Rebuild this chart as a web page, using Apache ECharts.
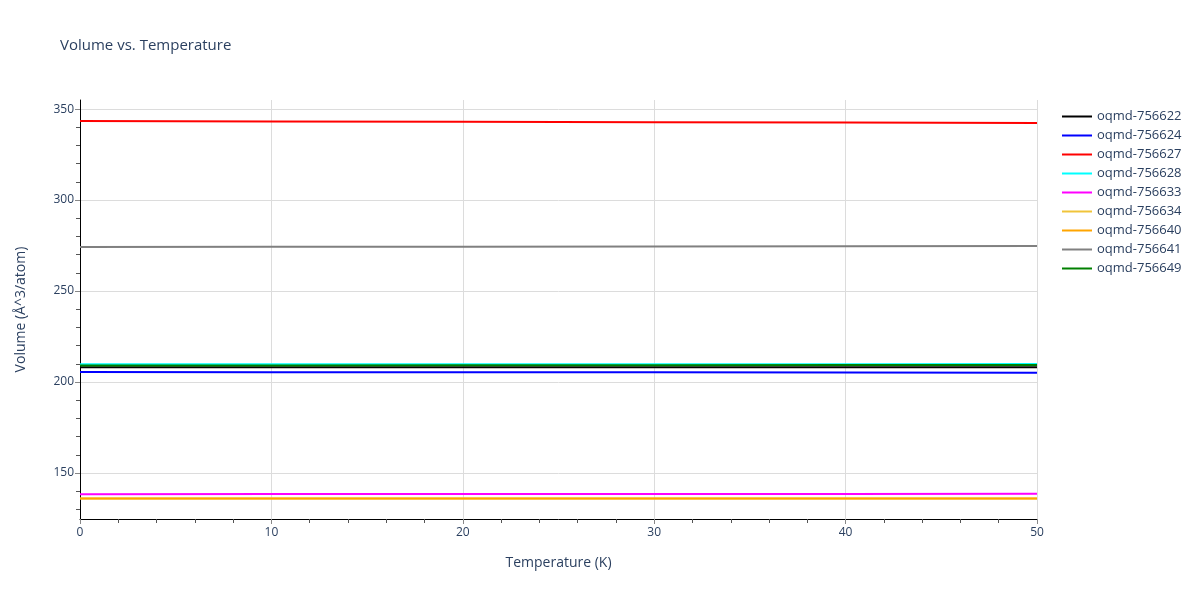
<!DOCTYPE html>
<html>
<head>
<meta charset="utf-8">
<script src="https://cdn.jsdelivr.net/npm/echarts@6/dist/echarts.min.js"></script>
<style>
	html, body { margin: 0; padding: 0; background: #fff; }
	#chart { width: 1200px; height: 600px; }
</style>
</head>
<body>
<div id="chart"></div>
<script>
// temperatures (K)
var temps = [0, 10, 20, 30, 40, 50];

var names = ['oqmd-756622', 'oqmd-756624', 'oqmd-756627', 'oqmd-756628', 'oqmd-756633',
	'oqmd-756634', 'oqmd-756640', 'oqmd-756641', 'oqmd-756649'];
var colors = ['#000000', '#0000ff', '#ff0000', '#00ffff', '#ff00ff',
	'#f0c43a', '#ffa500', '#808080', '#008000'];

// volume per atom
var v756622 = [208.1, 208.1, 208.1, 208.1, 208.1, 208.1];
var v756624 = [205.5, 205.4, 205.3, 205.3, 205.2, 205.1];
var v756627 = [343.4, 343.2, 343.0, 342.8, 342.6, 342.3];
var v756628 = [209.7, 209.7, 209.8, 209.8, 209.8, 209.9];
var v756633 = [138.3, 138.4, 138.4, 138.5, 138.5, 138.6];
var v756634 = [135.9, 135.9, 135.9, 135.9, 135.9, 135.9];
var v756640 = [135.9, 135.9, 135.9, 135.9, 135.9, 135.9];
var v756641 = [274.2, 274.3, 274.4, 274.5, 274.6, 274.7];
var v756649 = [209.1, 209.1, 209.2, 209.2, 209.3, 209.3];

var values = [v756622, v756624, v756627, v756628, v756633, v756634, v756640, v756641, v756649];

var yTicks = [150, 200, 250, 300, 350];
var yMinor = [130, 140, 160, 170, 180, 190, 210, 220, 230, 240, 260, 270, 280, 290, 310, 320, 330, 340];

var textColor = '#2a3f5f';
var fontName = '"Open Sans", sans-serif';

var myChart = echarts.init(document.getElementById('chart'));

var series = [];
for (var i = 0; i < names.length; i++) {
	var pts = [];
	for (var j = 0; j < temps.length; j++) {
		pts.push([temps[j], values[i][j]]);
	}
	series.push({
		name: names[i],
		type: 'line',
		symbol: 'none',
		animation: false,
		lineStyle: { width: 2, color: colors[i] },
		itemStyle: { color: colors[i] },
		data: pts
	});
}

var option = {
	textStyle: { fontFamily: fontName },
	title: {
		text: 'Volume vs. Temperature',
		left: 55,
		top: 33,
		textStyle: { fontSize: 15, fontWeight: 'normal', color: textColor, fontFamily: fontName }
	},
	legend: {
		orient: 'vertical',
		left: 1057,
		top: 105,
		icon: 'rect',
		itemWidth: 30,
		itemHeight: 2,
		itemGap: 6,
		textStyle: { fontSize: 13, color: textColor, fontFamily: fontName },
		data: names
	},
	grid: { left: 80, right: 163, top: 100, bottom: 81 },
	xAxis: {
		type: 'value',
		min: 0,
		max: 50,
		interval: 10,
		name: 'Temperature (K)',
		nameLocation: 'middle',
		nameGap: 37,
		nameTextStyle: { fontSize: 14, color: textColor },
		axisLine: { show: true, lineStyle: { color: '#000', width: 1 } },
		axisTick: { show: true, length: 5, lineStyle: { color: '#888' } },
		minorTick: { show: true, splitNumber: 5, length: 4, lineStyle: { color: '#555' } },
		axisLabel: { fontSize: 12, color: textColor, margin: 8 },
		splitLine: { show: true, lineStyle: { color: '#dcdcdc' } }
	},
	yAxis: [{
		type: 'value',
		min: 124.7,
		max: 355,
		name: 'Volume (Å^3/atom)',
		nameLocation: 'middle',
		nameGap: 52,
		nameTextStyle: { fontSize: 14, color: textColor },
		axisLine: { show: true, lineStyle: { color: '#000', width: 1 } },
		axisTick: { show: true, length: 5, customValues: yTicks, lineStyle: { color: '#888' } },
		axisLabel: { fontSize: 12, color: textColor, margin: 6, customValues: yTicks },
		splitLine: { show: true, lineStyle: { color: '#dcdcdc' } }
	}, {
		type: 'value',
		position: 'left',
		min: 124.7,
		max: 355,
		axisLine: { show: false },
		axisTick: { show: true, length: 4, customValues: yMinor, lineStyle: { color: '#555' } },
		axisLabel: { show: false, customValues: yMinor },
		splitLine: { show: false }
	}],
	series: series
};

myChart.setOption(option);
</script>
</body>
</html>
